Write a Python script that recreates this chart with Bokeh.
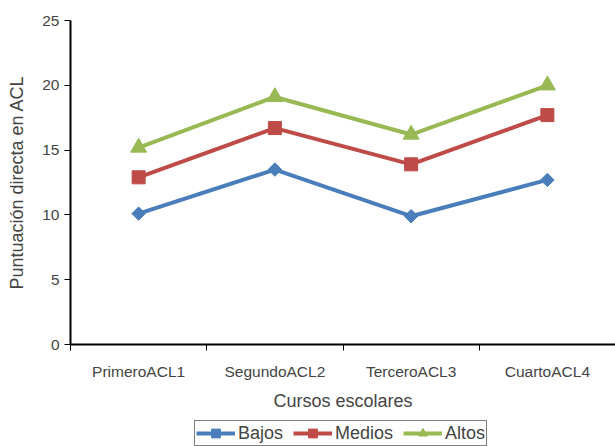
from bokeh.plotting import figure
from bokeh.models import Range1d, FixedTicker, Legend, LegendItem
from bokeh.layouts import column
from bokeh.embed import file_html
from bokeh.resources import INLINE

# School years (categories) and mean ACL scores per group
cursos = ["PrimeroACL1", "SegundoACL2", "TerceroACL3", "CuartoACL4"]
bajos = [10.1, 13.5, 9.9, 12.7]
medios = [12.9, 16.7, 13.9, 17.7]
altos = [15.2, 19.1, 16.2, 20.0]
y_ticks = [0, 5, 10, 15, 20, 25]

FONT = "Liberation Sans"

# each course occupies one unit on the x scale; points sit at the middle
centers = [i + 0.5 for i in range(len(cursos))]
bounds = list(range(len(cursos) + 1))

p = figure(
    width=615, height=420,
    output_backend="svg", toolbar_location=None,
    x_range=Range1d(0, len(cursos)), y_range=Range1d(y_ticks[0], y_ticks[-1]),
    min_border_left=70, min_border_right=0, min_border_top=20, min_border_bottom=76,
)
p.outline_line_color = None
p.grid.visible = False
p.background_fill_color = "white"
p.border_fill_color = "white"

# x axis: labels at category centres, tick marks at category boundaries
xa = p.xaxis[0]
xa.ticker = FixedTicker(ticks=centers, minor_ticks=bounds)
xa.major_label_overrides = {c: name for c, name in zip(centers, cursos)}
xa.major_tick_line_color = None
xa.minor_tick_line_color = "black"
xa.minor_tick_in = 0
xa.minor_tick_out = 6
xa.axis_line_width = 2
xa.major_label_text_font = FONT
xa.major_label_text_font_size = "15.5px"
xa.major_label_standoff = 12
xa.axis_label = "Cursos escolares"
xa.axis_label_text_font = FONT
xa.axis_label_text_font_style = "normal"
xa.axis_label_text_font_size = "18px"
xa.axis_label_standoff = 8

ya = p.yaxis[0]
ya.ticker = FixedTicker(ticks=y_ticks)
ya.minor_tick_line_color = None
ya.major_tick_in = 0
ya.major_tick_out = 6
ya.axis_line_width = 2
ya.major_label_text_font = FONT
ya.major_label_text_font_size = "15.5px"
ya.major_label_standoff = 5
ya.axis_label = "Puntuación directa en ACL"
ya.axis_label_text_font = FONT
ya.axis_label_text_font_style = "normal"
ya.axis_label_text_font_size = "18px"
ya.axis_label_standoff = 12

series = [
    ("Bajos", bajos, "#4A7EBB", "square", 9.5, 0.7854),
    ("Medios", medios, "#BE4B48", "square", 13, 0),
    ("Altos", altos, "#98B954", "triangle", 16, 0),
]

# legend strip underneath the chart (its frame lines up with the chart's frame)
leg = figure(
    width=615, height=26,
    output_backend="svg", toolbar_location=None,
    x_range=Range1d(0, 1), y_range=Range1d(-1, 0),
    x_axis_type=None, y_axis_type=None,
    min_border=0,
)
leg.outline_line_color = None
leg.grid.visible = False

items = []
for label, vals, color, marker, size, ang in series:
    p.line(centers, vals, line_color=color, line_width=4)
    p.scatter(centers, vals, marker=marker, size=size, angle=ang,
              fill_color=color, line_color=color)
    # key renderers share the series data; it falls outside the strip's view
    k_ln = leg.line(centers, vals, line_color=color, line_width=4)
    k_sc = leg.scatter(centers, vals, marker=marker, size=size, angle=ang,
                       fill_color=color, line_color=color)
    items.append(LegendItem(label=label, renderers=[k_ln, k_sc]))

legend = Legend(
    items=items, orientation="horizontal",
    location=(124, 0),
    label_text_font=FONT, label_text_font_size="18px",
    label_standoff=3, glyph_width=39, glyph_height=22, label_height=18,
    spacing=10, padding=1, margin=0,
    border_line_color="black", border_line_width=1.5,
    background_fill_color="white", background_fill_alpha=1,
)
leg.add_layout(legend, "center")

page = column(p, leg, spacing=0)
open("out.html", "w").write(file_html(page, INLINE))
